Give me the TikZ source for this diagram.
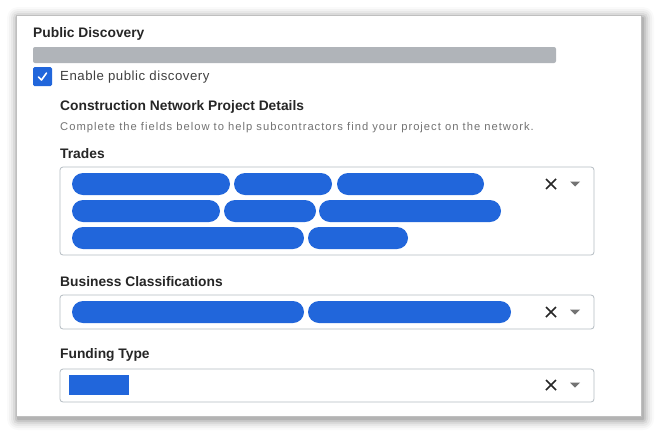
\documentclass[tikz,border=0pt]{standalone}
\usepackage{fontspec}
\setmainfont{Liberation Sans}
\newfontfamily\spaced[LetterSpace=4]{Liberation Sans}
\newfontfamily\wspaced[LetterSpace=9]{Liberation Sans}
\begin{document}
\begin{tikzpicture}[x=1pt,y=-1pt,
  lbl/.style={anchor=west,inner sep=0pt,font=\fontsize{13.8}{15}\selectfont\bfseries,text=black!85},
  pill/.style={fill=pblue,rounded corners=11pt},
  field/.style={draw=fgray,line width=0.8pt,rounded corners=3pt,fill=white},
  xmark/.style={line width=1.6pt,draw=black!85},
  caret/.style={fill=black!55}]
\definecolor{pblue}{HTML}{2166DB}
\definecolor{fgray}{HTML}{B5BCC2}
\definecolor{bargray}{HTML}{B0B4B9}
\useasboundingbox (0,0) rectangle (656,432);
\fill[white] (0,0) rectangle (656,432);
\foreach \d/\o in {11/0.02,9/0.03,7/0.04,5/0.06,3/0.08,1/0.1}
  \fill[black,opacity=\o,rounded corners=\d pt] (16-\d+2,15-\d+3) rectangle (641+\d+2,416+\d+3);
\fill[white] (16,15) rectangle (641,416);
\draw[black!25,line width=0.5pt] (16,15) rectangle (641,416);
\node[lbl] (t) at (33,34) {Public Discovery};
\fill[bargray,rounded corners=2pt] (33,47) rectangle (556,63);
\node[fill=pblue,rounded corners=1.5pt,minimum size=19pt,inner sep=0pt] (cb) at (42.5,76.5) {};
\draw[white,line width=1.6pt,line cap=round,line join=round] (38.5,77) -- (41.5,80) -- (46.5,73);
\node[lbl,font=\fontsize{13.2}{15}\spaced,text=black!75] (en) at (60,77) {Enable public discovery};
\node[lbl] (cn) at (60,107) {Construction Network Project Details};
\node[lbl,font=\fontsize{11.2}{13}\wspaced,text=black!55] (cf) at (60,128) {Complete the fields below to help subcontractors find your project on the network.};
\node[lbl] (tr) at (60,154) {Trades};
\draw[field] (60,167) rectangle (594,255);
\foreach \a/\b/\y in {72/230/173,234/332/173,337/484/173,72/220/200,224/316/200,319/501/200,72/304/227,308/408/227}
  \fill[pill] (\a,\y) rectangle (\b,\y+22);
\node[lbl] (bc) at (60,282) {Business Classifications};
\draw[field] (60,295) rectangle (594,329);
\foreach \a/\b in {72/304,308/511}
  \fill[pill] (\a,301) rectangle (\b,323);
\node[lbl] (ft) at (60,355) {Funding Type};
\draw[field] (60,369) rectangle (594,402);
\fill[pblue] (69,375) rectangle (129,395);
\foreach \y in {184,312,385}{
  \draw[xmark] (546,\y-5) -- (556,\y+5) (546,\y+5) -- (556,\y-5);
  \fill[caret] (570,\y-2.5) -- (580,\y-2.5) -- (575,\y+2.5) -- cycle;}
\end{tikzpicture}
\end{document}
